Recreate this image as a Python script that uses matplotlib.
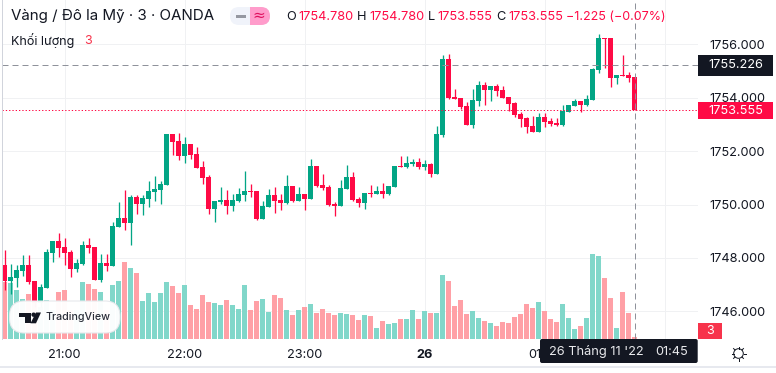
import numpy as np
import matplotlib
matplotlib.use('Agg')
import matplotlib.pyplot as plt
from matplotlib.patches import FancyBboxPatch, Rectangle, Circle, Polygon

plt.rcParams['font.family'] = ['Inter', 'DejaVu Sans']

# nen gia vang, khung 3 phut, moi phan tu la mot nen
opens = [1747.74, 1747.14, 1747.25, 1747.51, 1747.74, 1747.14, 1746.30, 1746.88, 1748.19, 1748.64,
         1748.41, 1748.22, 1747.59, 1747.78, 1748.49, 1748.41, 1747.18, 1747.81, 1747.70, 1749.16,
         1749.50, 1749.31, 1750.28, 1750.02, 1750.21, 1750.47, 1750.55, 1750.73, 1752.65, 1752.38,
         1751.82, 1752.27, 1751.90, 1751.41, 1751.03, 1749.84, 1750.10, 1750.17, 1749.95, 1750.13,
         1750.36, 1750.51, 1750.51, 1749.46, 1749.91, 1750.36, 1750.17, 1750.06, 1750.70, 1750.13,
         1750.40, 1750.21, 1751.45, 1750.73, 1750.66, 1750.02, 1749.95, 1750.58, 1751.03, 1750.21,
         1750.06, 1750.43, 1750.40, 1750.51, 1750.40, 1750.66, 1751.45, 1751.41, 1751.52, 1751.60,
         1751.41, 1751.52, 1751.15, 1752.61, 1755.45, 1754.03, 1753.99, 1753.69, 1752.98, 1753.88,
         1754.48, 1754.29, 1754.44, 1754.29, 1754.03, 1753.80, 1753.39, 1753.24, 1752.94, 1752.72,
         1753.28, 1753.13, 1753.06, 1752.98, 1753.47, 1753.69, 1753.88, 1753.73, 1753.92, 1755.04,
         1756.24, 1756.24, 1754.74, 1754.85, 1754.85, 1754.78]
highs = [1748.30, 1747.78, 1747.74, 1748.11, 1748.11, 1747.14, 1747.03, 1748.34, 1748.64, 1748.94,
         1748.75, 1748.30, 1747.96, 1748.64, 1748.75, 1748.41, 1748.15, 1748.15, 1749.35, 1750.10,
         1750.55, 1750.36, 1750.36, 1750.36, 1750.88, 1751.07, 1750.88, 1752.65, 1752.65, 1752.68,
         1752.53, 1752.27, 1752.16, 1751.63, 1751.11, 1750.13, 1750.66, 1750.55, 1750.40, 1750.62,
         1751.26, 1750.77, 1750.51, 1750.13, 1750.58, 1750.66, 1750.40, 1751.11, 1750.70, 1750.66,
         1750.40, 1751.71, 1751.45, 1751.15, 1750.73, 1750.10, 1750.92, 1751.48, 1751.22, 1750.28,
         1750.43, 1750.73, 1750.70, 1750.81, 1750.70, 1751.45, 1751.82, 1751.82, 1751.71, 1751.75,
         1751.67, 1751.56, 1752.94, 1755.60, 1755.64, 1754.33, 1753.99, 1753.84, 1754.33, 1754.63,
         1754.59, 1754.44, 1754.52, 1754.44, 1754.03, 1753.84, 1753.47, 1753.28, 1753.32, 1753.43,
         1753.43, 1753.24, 1753.24, 1753.73, 1753.73, 1753.96, 1753.88, 1754.10, 1755.12, 1756.39,
         1756.24, 1756.24, 1754.85, 1755.60, 1754.97, 1754.78]
lows = [1746.80, 1746.65, 1746.91, 1747.33, 1747.03, 1746.18, 1746.18, 1746.88, 1747.85, 1748.04,
        1747.74, 1747.29, 1747.48, 1747.74, 1748.19, 1747.18, 1747.10, 1747.51, 1747.70, 1749.16,
        1749.05, 1748.49, 1749.65, 1749.61, 1749.91, 1750.13, 1750.02, 1750.73, 1751.86, 1751.67,
        1751.56, 1751.71, 1751.37, 1750.77, 1749.65, 1749.35, 1750.02, 1749.65, 1749.76, 1750.10,
        1750.13, 1750.28, 1749.42, 1749.46, 1749.91, 1749.69, 1749.80, 1750.02, 1750.10, 1750.13,
        1749.80, 1750.21, 1750.66, 1750.55, 1749.95, 1749.57, 1749.95, 1750.58, 1750.13, 1749.91,
        1749.84, 1750.28, 1750.40, 1750.25, 1750.36, 1750.66, 1751.41, 1751.37, 1751.45, 1751.33,
        1751.30, 1751.03, 1751.15, 1752.53, 1753.96, 1753.96, 1753.58, 1752.98, 1752.87, 1753.69,
        1753.73, 1753.88, 1754.07, 1753.99, 1753.50, 1753.28, 1752.91, 1752.68, 1752.72, 1752.72,
        1752.91, 1752.94, 1752.94, 1752.94, 1753.47, 1753.69, 1753.47, 1753.69, 1753.92, 1754.93,
        1755.12, 1754.40, 1754.52, 1754.82, 1754.59, 1753.555]
closes = [1747.14, 1747.29, 1747.55, 1747.74, 1747.10, 1746.30, 1746.91, 1748.22, 1748.64, 1748.37,
          1748.19, 1747.59, 1747.81, 1748.49, 1748.37, 1747.18, 1747.81, 1747.70, 1749.20, 1749.50,
          1749.31, 1750.28, 1750.02, 1750.25, 1750.51, 1750.58, 1750.77, 1752.65, 1752.35, 1751.82,
          1752.27, 1751.86, 1751.37, 1751.00, 1749.84, 1750.13, 1750.17, 1749.95, 1750.17, 1750.40,
          1750.51, 1750.47, 1749.46, 1749.95, 1750.36, 1750.13, 1750.06, 1750.70, 1750.13, 1750.40,
          1750.21, 1751.45, 1750.70, 1750.62, 1749.98, 1749.95, 1750.62, 1751.03, 1750.17, 1750.06,
          1750.43, 1750.40, 1750.51, 1750.40, 1750.70, 1751.45, 1751.41, 1751.56, 1751.60, 1751.41,
          1751.52, 1751.15, 1752.64, 1755.45, 1753.99, 1753.96, 1753.65, 1752.98, 1753.92, 1754.48,
          1754.29, 1754.44, 1754.25, 1753.99, 1753.77, 1753.36, 1753.21, 1752.91, 1752.72, 1753.28,
          1753.09, 1753.02, 1752.98, 1753.50, 1753.73, 1753.88, 1753.73, 1753.96, 1755.08, 1756.24,
          1756.20, 1754.74, 1754.85, 1754.82, 1754.74, 1753.555]
volumes = [86, 84, 74, 60, 68, 64, 48, 58, 44, 70,
           74, 44, 44, 86, 82, 75, 70, 44, 81, 87,
           116, 106, 99, 57, 69, 55, 69, 86, 80, 69,
           81, 51, 45, 66, 55, 54, 51, 58, 51, 45,
           81, 44, 57, 60, 40, 66, 61, 44, 36, 44,
           48, 52, 39, 45, 39, 36, 39, 37, 36, 28,
           36, 34, 16, 27, 22, 24, 30, 30, 44, 30,
           42, 39, 39, 96, 87, 49, 58, 37, 42, 31,
           27, 24, 19, 25, 24, 33, 37, 52, 46, 55,
           42, 30, 25, 52, 31, 15, 19, 31, 127, 124,
           91, 61, 16, 70, 39, 3]

time_ticks = [10, 30, 50, 70, 90]
time_labels = ['21:00', '22:00', '23:00', '26', '01:00']
time_grid = [10, 30, 50, 70, 90, 110]
price_ticks = [1746, 1748, 1750, 1752, 1754, 1756]
crosshair_price = 1755.226
crosshair_bar = 105
last_price = 1753.555

UP = '#02a585'
DOWN = '#ff0a45'
UP_VOL = '#81d7ca'
DOWN_VOL = '#ffa0a6'
DARK = '#131722'
GRID = '#f0f1f3'
CROSS = '#8f929b'
W, H = 776, 373
PX = 0.72  # 1 px dalam pt pada dpi 100

fig = plt.figure(figsize=(W / 100, H / 100), dpi=100, facecolor='white')
rect = [2 / W, (H - 339) / H, 696 / W, 339 / H]

ax_vol = fig.add_axes(rect)
ax = ax_vol.twinx()
ax.set_zorder(ax_vol.get_zorder() + 1)
ax.patch.set_visible(False)

idx = np.arange(len(closes))
o = np.array(opens)
h = np.array(highs)
l = np.array(lows)
c = np.array(closes)
up = c >= o
colors = np.where(up, UP, DOWN)

# volume dan grid di axes bawah
ax_vol.bar(idx, volumes, width=5 / 6, linewidth=0, color=np.where(up, UP_VOL, DOWN_VOL).tolist(), zorder=2)
ax_vol.set_ylim(0, 508.5)
ax_vol.set_yticks([])

ax.vlines(idx, l, h, colors=colors.tolist(), linewidth=1.3 * PX, zorder=3)
ax.bar(idx, np.abs(c - o), bottom=np.minimum(o, c), width=5 / 6, linewidth=0, color=colors.tolist(), zorder=4)

for a in (ax, ax_vol):
    a.set_xlim((2 - 4.5) / 6, (698 - 4.5) / 6)
    for s in a.spines.values():
        s.set_visible(False)
ax.set_ylim(1756 - (339 - 44.4) / 26.7, 1756 + 44.4 / 26.7)

for t in time_grid:
    ax_vol.axvline(t, color=GRID, linewidth=1 * PX, zorder=1)
for p in price_ticks:
    ax_vol.axhline((p - ax.get_ylim()[0]) * 26.7 * 1.5, color=GRID, linewidth=1 * PX, zorder=1)

ax.yaxis.tick_right()
ax.set_yticks(price_ticks)
ax.set_yticklabels([f'{p:.3f}' for p in price_ticks], fontsize=9.2, color=DARK)
ax.tick_params(axis='y', length=0, pad=8)
ax_vol.set_xticks(time_ticks)
ax_vol.set_xticklabels(time_labels, fontsize=9.2, color=DARK)
ax_vol.tick_params(axis='x', length=0, pad=7)
ax_vol.get_xticklabels()[3].set_fontweight('bold')

# crosshair dan garis harga terakhir
ax.axhline(crosshair_price, color=CROSS, linewidth=1 * PX, dashes=(6, 4), zorder=5)
ax.axvline(crosshair_bar, color=CROSS, linewidth=1 * PX, dashes=(6, 4), zorder=5)
ax.axhline(last_price, color=DOWN, linewidth=1 * PX, dashes=(1.3, 2), zorder=5)

# lapisan atas dalam koordinat piksel untuk elemen UI
ov = fig.add_axes([0, 0, 1, 1], zorder=20)
ov.set_xlim(0, W)
ov.set_ylim(H, 0)
ov.axis('off')
ov.patch.set_visible(False)

ov.plot([1.5, 1.5], [0, 339], color='#d1d4dc', linewidth=1 * PX)
ov.plot([0, W], [367, 367], color='#e0e3eb', linewidth=1.5 * PX)


def label(x, y, s, color=DARK, size=9.4, ha='left', **kw):
    ov.text(x, y, s, color=color, fontsize=size, ha=ha, va='center', **kw)


label(11, 15.5, 'Vàng / Đô la Mỹ · 3 · OANDA', size=10.9)
label(11, 40.5, 'Khối lượng', size=9)
label(84, 40.5, '3', color='#f7334b', size=9)

# tombol kecil di header
ov.add_patch(FancyBboxPatch((230, 7), 40, 18, boxstyle='round,pad=0,rounding_size=9', fc='#f0f3fa', ec='none'))
pink = FancyBboxPatch((230, 7), 40, 18, boxstyle='round,pad=0,rounding_size=9', fc='#ff9ccb', ec='none')
ov.add_patch(pink)
pink.set_clip_path(Rectangle((250, 0), 30, 40, transform=ov.transData))
ov.add_patch(Rectangle((236, 14.5), 10, 3, fc='#9598a1', ec='none'))
label(258.5, 15.5, '≈', color='#e0115f', size=11, ha='center', family=['DejaVu Sans'])

ohlc_x = [(286, 298, 'O', '1754.780'), (357, 369, 'H', '1754.780'), (428, 437, 'L', '1753.555'), (496, 508, 'C', '1753.555')]
for x0, x1, name, val in ohlc_x:
    label(x0, 17, name, size=9.2)
    label(x1, 17, val, color=DOWN, size=9.2)
label(566, 17, '−1.225 (−0.07%)', color=DOWN, size=9)

# tag di sumbu harga
ov.add_patch(Rectangle((698, 55), 75, 20.5, fc=DARK, ec='none'))
label(735.5, 65.5, '1755.226', color='white', size=9.2, ha='center')
ov.add_patch(Rectangle((698, 101.7), 75, 17.5, fc=DOWN, ec='none'))
label(735.5, 110.7, '1753.555', color='white', size=9.2, ha='center')
ov.add_patch(Rectangle((698, 323), 24, 16, fc='#f7334b', ec='none'))
label(710, 331.3, '3', color='white', size=9, ha='center')

# tooltip waktu
ov.add_patch(FancyBboxPatch((540, 339), 157.7, 24, boxstyle='round,pad=0,rounding_size=2', fc=DARK, ec='none'))
label(549, 352, "26 Tháng 11 '22", color='#e8e9ec', size=9.2)
label(655, 352, '01:45', color='#e8e9ec', size=9.2)

# badge TradingView
ov.add_patch(FancyBboxPatch((9.5, 301), 110.5, 32, boxstyle='round,pad=0,rounding_size=15', fc='white', ec='#e6e8ec', linewidth=0.8, alpha=0.97))
ov.add_patch(Polygon([(19, 312.5), (31, 312.5), (31, 323.3), (25, 323.3), (25, 317), (19, 317)], fc='#131722', ec='none'))
ov.add_patch(Circle((33.6, 314.7), 2.2, fc='#131722', ec='none'))
ov.add_patch(Polygon([(36, 312.5), (41, 312.5), (36, 323.3), (30.5, 323.3)], fc='#131722', ec='none'))
label(45, 317.5, 'TradingView', color='#2a2e39', size=7.7, fontweight='medium')

# ikon matahari
ov.add_patch(Circle((738.5, 353.5), 4.8, fc='white', ec=DARK, linewidth=1 * PX))
for ang in np.arange(0, 360, 45):
    dx, dy = np.cos(np.radians(ang)), np.sin(np.radians(ang))
    ov.plot([738.5 + 5 * dx, 738.5 + 7 * dx], [353.5 + 5 * dy, 353.5 + 7 * dy], color=DARK, linewidth=1 * PX)

fig.savefig('out.png', dpi=100)
plt.close(fig)
